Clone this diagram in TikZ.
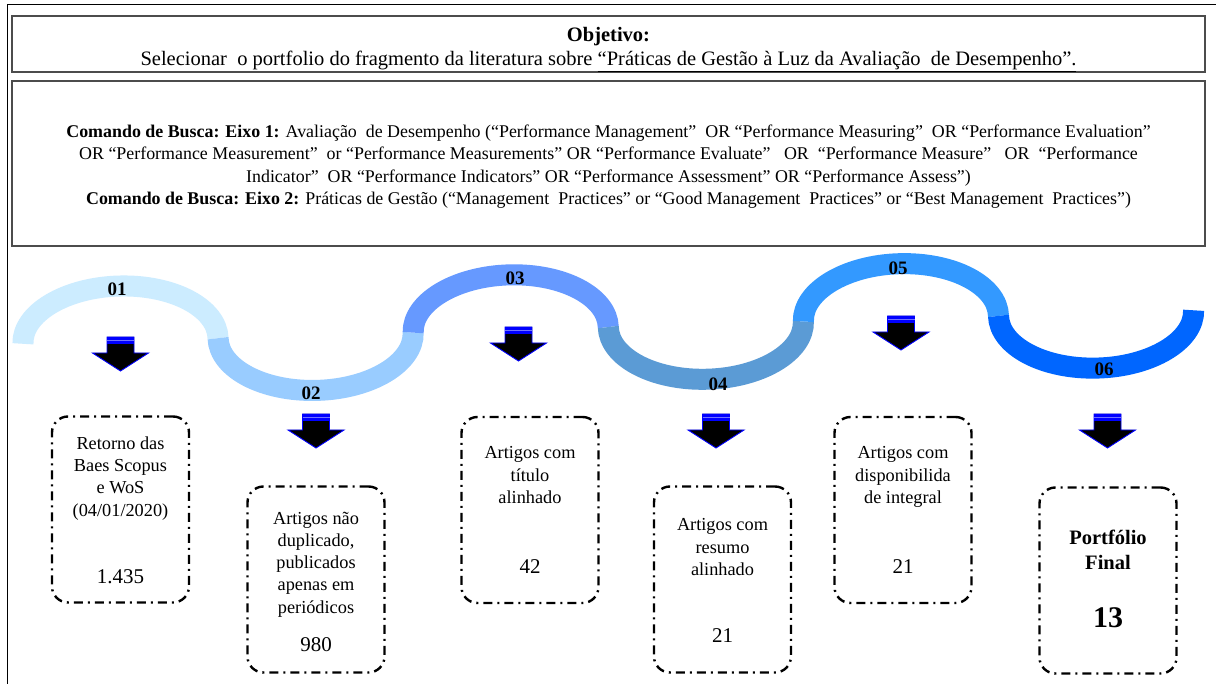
\documentclass[tikz,border=0pt]{standalone}
\usepackage{fontspec}
\setmainfont{Liberation Serif}
\definecolor{wave1}{HTML}{CCECFF}
\definecolor{wave2}{HTML}{99CCFF}
\definecolor{wave3}{HTML}{6699FF}
\definecolor{wave4}{HTML}{5B9BD5}
\definecolor{wave5}{HTML}{3399FF}
\definecolor{wave6}{HTML}{0066FF}
\begin{document}
\begin{tikzpicture}[x=1pt,y=-1pt,
  frame/.style={draw=black!70, line width=1.5pt, inner sep=0pt},
  stepbox/.style={draw, line width=2.4pt, rounded corners=16pt,
    dash pattern=on 9pt off 5pt on 2pt off 5pt,
    minimum width=137pt, minimum height=186pt, inner sep=0pt},
  boxtext/.style={font=\fontsize{18.3}{22.3}\selectfont, align=center, inner sep=0pt, anchor=north},
  boxnum/.style={font=\fontsize{21}{24}\selectfont, inner sep=0pt},
  wavenum/.style={font=\fontsize{19}{21}\selectfont\bfseries, inner sep=0pt},
  seg/.style={line width=21pt, line cap=butt},
  downarr/.pic={
    \filldraw[fill=black, draw=blue, line width=0.9pt]
      (-13.5,0) -- (13.5,0) -- (13.5,16) -- (28,16) -- (0,34) -- (-28,16) -- (-13.5,16) -- cycle;
    \fill[blue] (-13.5,0) rectangle (13.5,7.5);
    \draw[blue!55!white, line width=0.6pt] (-13.5,3.5) -- (13.5,3.5);
  }
]
\useasboundingbox (0,0) rectangle (1216,684);
\fill[white] (0,0) rectangle (1216,684);

% page frame
\draw[line width=1pt] (7,684) -- (7,5) -- (1216,5);

% objective box
\node[frame, minimum width=1193pt, minimum height=56pt] (objbox) at (608.5,44) {};
\node[font=\fontsize{20.5}{24}\selectfont\bfseries, inner sep=0pt, anchor=base] (objtitle) at (608.5,41.5) {Objetivo:};
\node[font=\fontsize{20.5}{24}\selectfont, inner sep=0pt, anchor=base] (objtext) at (608.5,65.5)
  {Selecionar~ o portfolio do fragmento da literatura sobre \underline{“Práticas de Gestão à Luz da Avaliação~ de Desempenho”.}};

% search command box
\node[frame, minimum width=1193pt, minimum height=165pt] (searchbox) at (608.5,163.5) {};
\node[align=center, inner sep=0pt, font=\fontsize{17.9}{22.4}\selectfont] (searchtext) at (608.5,166.5)
  {\textbf{Comando de Busca: Eixo 1:} Avaliação~ de Desempenho (“Performance Management”~ OR “Performance Measuring”~ OR “Performance Evaluation”\\
   OR “Performance Measurement”~ or “Performance Measurements” OR “Performance Evaluate”~~ OR~ “Performance Measure”~~ OR~ “Performance\\
   Indicator”~ OR “Performance Indicators” OR “Performance Assessment” OR “Performance Assess”)\\
   \textbf{Comando de Busca: Eixo 2:} Práticas de Gestão (“Management~ Practices” or “Good Management~ Practices” or “Best Management~ Practices”)};

% the wave of six coloured half-ellipses
\begin{scope}[shift={(120.5,341)}, rotate=1.64]
  \draw[seg, wave1] (-97.6,0) arc[start angle=180, end angle=0,   x radius=97.6pt, y radius=55pt];
  \draw[seg, wave2] (97.6,0)  arc[start angle=180, end angle=360, x radius=97.6pt, y radius=55pt];
  \draw[seg, wave3] (292.8,0) arc[start angle=180, end angle=0,   x radius=97.6pt, y radius=55pt];
  \draw[seg, wave4] (488,0)   arc[start angle=180, end angle=360, x radius=97.6pt, y radius=55pt];
  \draw[seg, wave5] (683.2,0) arc[start angle=180, end angle=0,   x radius=97.6pt, y radius=55pt];
  \draw[seg, wave6] (878.4,0) arc[start angle=180, end angle=360, x radius=97.6pt, y radius=55pt];
\end{scope}

% step numbers on the wave
\node[wavenum] (w1) at (117,289) {01};
\node[wavenum] (w2) at (311,393) {02};
\node[wavenum] (w3) at (515,278) {03};
\node[wavenum] (w4) at (718,384) {04};
\node[wavenum] (w5) at (898,268) {05};
\node[wavenum] (w6) at (1104,369) {06};

% down arrows
\pic at (120.5,337) {downarr};
\pic at (316,414) {downarr};
\pic at (518.5,327) {downarr};
\pic at (716,414) {downarr};
\pic at (901,316) {downarr};
\pic at (1107.5,414) {downarr};

% step boxes
\node[stepbox] (b1) at (120.5,509.5) {};
\node[stepbox] (b2) at (316,579.5) {};
\node[stepbox] (b3) at (530,510) {};
\node[stepbox] (b4) at (722.5,579.5) {};
\node[stepbox] (b5) at (903,510) {};
\node[stepbox] (b6) at (1108,580.5) {};

\node[boxtext] (t1) at (120.5,436.5) {Retorno das\\Baes Scopus\\e WoS\\(04/01/2020)};
\node[boxnum]  (n1) at (120.5,577) {1.435};
\node[boxtext] (t2) at (316,511.5) {Artigos não\\duplicado,\\publicados\\apenas em\\periódicos};
\node[boxnum]  (n2) at (316,645) {980};
\node[boxtext] (t3) at (530,446.5) {Artigos com\\título\\alinhado};
\node[boxnum]  (n3) at (530,567) {42};
\node[boxtext] (t4) at (722.5,518.5) {Artigos com\\resumo\\alinhado};
\node[boxnum]  (n4) at (722.5,636) {21};
\node[boxtext] (t5) at (903,446.5) {Artigos com\\disponibilida\\de integral};
\node[boxnum]  (n5) at (903,567) {21};
\node[boxtext, font=\fontsize{20.5}{25}\selectfont\bfseries] (t6) at (1108,529.5) {Portfólio\\Final};
\node[boxnum, font=\fontsize{30}{32}\selectfont\bfseries] (n6) at (1108,618) {13};
\end{tikzpicture}
\end{document}
